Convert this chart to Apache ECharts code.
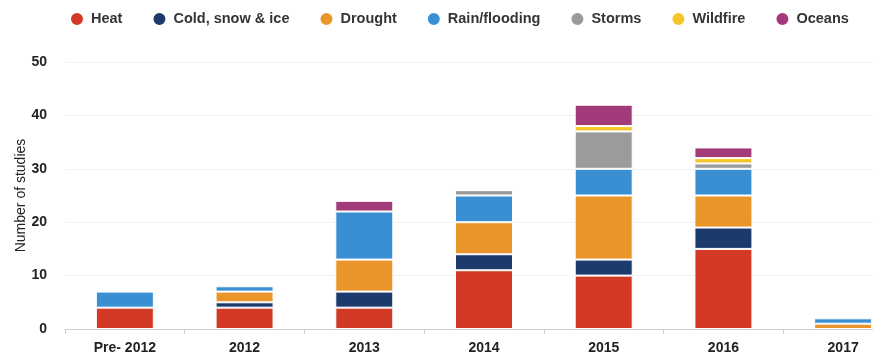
<!DOCTYPE html>
<html>
<head>
<meta charset="utf-8">
<script src="https://cdn.jsdelivr.net/npm/echarts@6/dist/echarts.min.js"></script>
<style>
  html, body { margin: 0; padding: 0; background: #fff; }
  #chart { width: 873px; height: 356px; }
</style>
</head>
<body>
<div id="chart"></div>
<script>
// Studies of extreme weather events, by year and event type
const categories = ['Pre- 2012', '2012', '2013', '2014', '2015', '2016', '2017'];
const heat     = [4, 4, 4, 11, 10, 15, 0];
const cold     = [0, 1, 3, 3, 3, 4, 0];
const drought  = [0, 2, 6, 6, 12, 6, 1];
const rain     = [3, 1, 9, 5, 5, 5, 1];
const storms   = [0, 0, 0, 1, 7, 1, 0];
const wildfire = [0, 0, 0, 0, 1, 1, 0];
const oceans   = [0, 0, 2, 0, 4, 2, 0];
const yTicks   = [0, 10, 20, 30, 40, 50];

const seriesDefs = [
  { name: 'Heat', data: heat, color: '#d33a26' },
  { name: 'Cold, snow & ice', data: cold, color: '#1d3a6d' },
  { name: 'Drought', data: drought, color: '#ea952a' },
  { name: 'Rain/flooding', data: rain, color: '#3a8fd2' },
  { name: 'Storms', data: storms, color: '#9b9b9b' },
  { name: 'Wildfire', data: wildfire, color: '#f6c52a' },
  { name: 'Oceans', data: oceans, color: '#a33a79' }
];

const chart = echarts.init(document.getElementById('chart'), null, { renderer: 'canvas' });

chart.setOption({
  animation: false,
  backgroundColor: '#ffffff',
  textStyle: { fontFamily: '"Liberation Sans", Arial, sans-serif' },
  legend: {
    left: 69,
    top: 11,
    padding: 0,
    icon: 'circle',
    itemWidth: 14,
    itemHeight: 14,
    itemGap: 29,
    textStyle: {
      fontSize: 14.5,
      fontWeight: 'bold',
      color: '#353535',
      padding: [0, 0, 0, 2]
    },
    data: seriesDefs.map(s => s.name)
  },
  grid: {
    left: 65,
    right: -30,
    top: 62,
    bottom: 27,
    containLabel: false,
    outerBoundsMode: 'none'
  },
  xAxis: {
    type: 'category',
    data: categories,
    axisLine: { lineStyle: { color: '#cfcfcf', width: 1 } },
    axisTick: { show: true, length: 5, lineStyle: { color: '#cfcfcf' } },
    axisLabel: {
      margin: 12,
      fontSize: 14,
      fontWeight: 'bold',
      color: '#222'
    }
  },
  yAxis: {
    type: 'value',
    min: yTicks[0],
    max: yTicks[yTicks.length - 1],
    interval: yTicks[1] - yTicks[0],
    name: 'Number of studies',
    nameLocation: 'middle',
    nameGap: 37,
    nameMoveOverlap: false,
    nameRotate: 90,
    nameTextStyle: { fontSize: 14, color: '#222' },
    axisLine: { show: false },
    axisTick: { show: false },
    axisLabel: {
      margin: 18,
      fontSize: 14,
      fontWeight: 'bold',
      color: '#222'
    },
    splitLine: { lineStyle: { color: '#f1f1f1', width: 1 } }
  },
  series: seriesDefs.map(s => ({
    name: s.name,
    type: 'bar',
    stack: 'studies',
    barWidth: 58,
    data: s.data.map(v => (v === 0 ? null : v)),
    itemStyle: {
      color: s.color,
      borderColor: '#ffffff',
      borderWidth: 1
    },
    emphasis: { disabled: true }
  }))
});
</script>
</body>
</html>
